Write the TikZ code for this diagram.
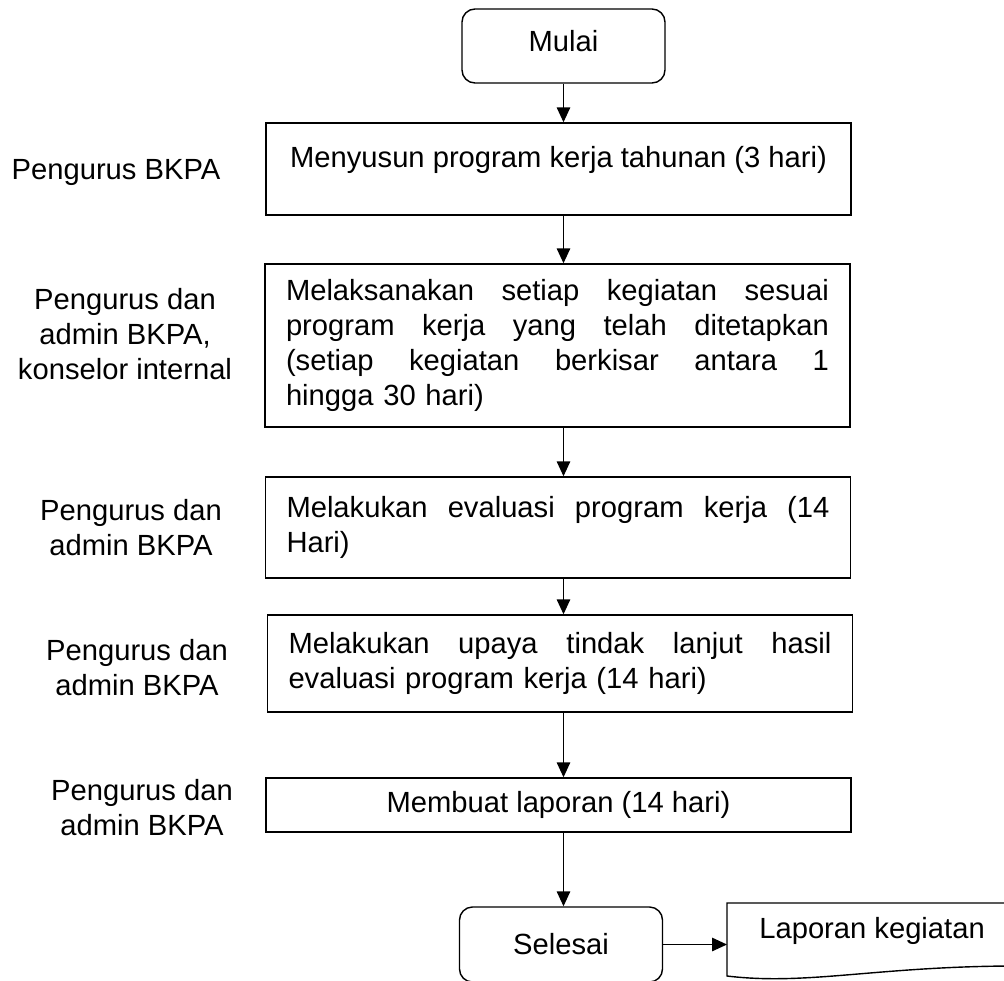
\documentclass[tikz,border=0pt]{standalone}
\usepackage{fontspec}
\setmainfont{Liberation Sans}
\usetikzlibrary{arrows.meta}
\newcommand{\jline}[1]{\leavevmode\hbox to 10.86cm{#1}}
\begin{document}
\begin{tikzpicture}[
  txt/.style={font=\fontsize{16.6}{19.9}\selectfont},
  stepbox/.style={txt,draw,line width=0.8pt,minimum width=11.7cm},
  widebox/.style={stepbox,text width=10.86cm,align=left},
  term/.style={txt,draw,line width=0.8pt,rounded corners=0.26cm,minimum width=4.06cm},
  who/.style={txt,align=center},
  arr/.style={line width=0.8pt,-{Triangle[length=0.3cm,width=0.27cm]}}
]
\useasboundingbox (0,0) rectangle (20.08,-19.62);
% terminals
\node[term,minimum height=1.48cm,text depth=0.2cm] (mulai) at (11.27,-0.92) {Mulai};
\node[term,minimum height=1.5cm] (selesai) at (11.22,-18.89) {Selesai};
% steps
\node[stepbox,minimum height=1.84cm,text depth=0.5cm] (susun) at (11.17,-3.38) {Menyusun program kerja tahunan (3 hari)};
\node[widebox,minimum height=3.26cm] (laksana) at (11.15,-6.91) {\jline{Melaksanakan\hfill setiap\hfill kegiatan\hfill sesuai}\\
  \jline{program\hfill kerja\hfill yang\hfill telah\hfill ditetapkan}\\
  \jline{(setiap\hfill kegiatan\hfill berkisar\hfill antara\hfill 1}\\
  hingga 30 hari)};
\node[widebox,minimum height=2.02cm] (evaluasi) at (11.16,-10.55) {\jline{Melakukan\hfill evaluasi\hfill program\hfill kerja\hfill (14}\\
  Hari)};
\node[widebox,minimum height=1.94cm] (tindak) at (11.2,-13.27) {\jline{Melakukan\hfill upaya\hfill tindak\hfill lanjut\hfill hasil}\\
  evaluasi program kerja (14 hari)};
\node[stepbox,minimum height=1.08cm] (laporan) at (11.17,-16.1) {Membuat laporan (14 hari)};
% who does it
\node[who] (p1) at (2.32,-3.44) {Pengurus BKPA};
\node[who] (p2) at (2.5,-6.68) {Pengurus dan\\admin BKPA,\\konselor internal};
\node[who] (p3) at (2.62,-10.55) {Pengurus dan\\admin BKPA};
\node[who] (p4) at (2.74,-13.35) {Pengurus dan\\admin BKPA};
\node[who] (p5) at (2.84,-16.16) {Pengurus dan\\admin BKPA};
% document
\coordinate (dok) at (14.54,-18.06);
\draw[line width=0.8pt] (20.6,-18.06) -- (dok) -- (14.54,-19.52) .. controls (16.2,-19.72) and (17.6,-19.3) .. (20.6,-19.32);
\node[txt,anchor=west,inner sep=0pt] (lap) at (15.18,-18.62) {Laporan kegiatan};
% arrows
\draw[arr] (mulai.south) -- (mulai.south |- susun.north);
\draw[arr] (susun.south -| mulai) -- (laksana.north -| mulai);
\draw[arr] (laksana.south -| mulai) -- (evaluasi.north -| mulai);
\draw[arr] (evaluasi.south -| mulai) -- (tindak.north -| mulai);
\draw[arr] (tindak.south -| mulai) -- (laporan.north -| mulai);
\draw[arr] (laporan.south -| mulai) -- (selesai.north -| mulai);
\draw[arr] (selesai.east) -- (selesai.east -| dok);
\end{tikzpicture}
\end{document}
